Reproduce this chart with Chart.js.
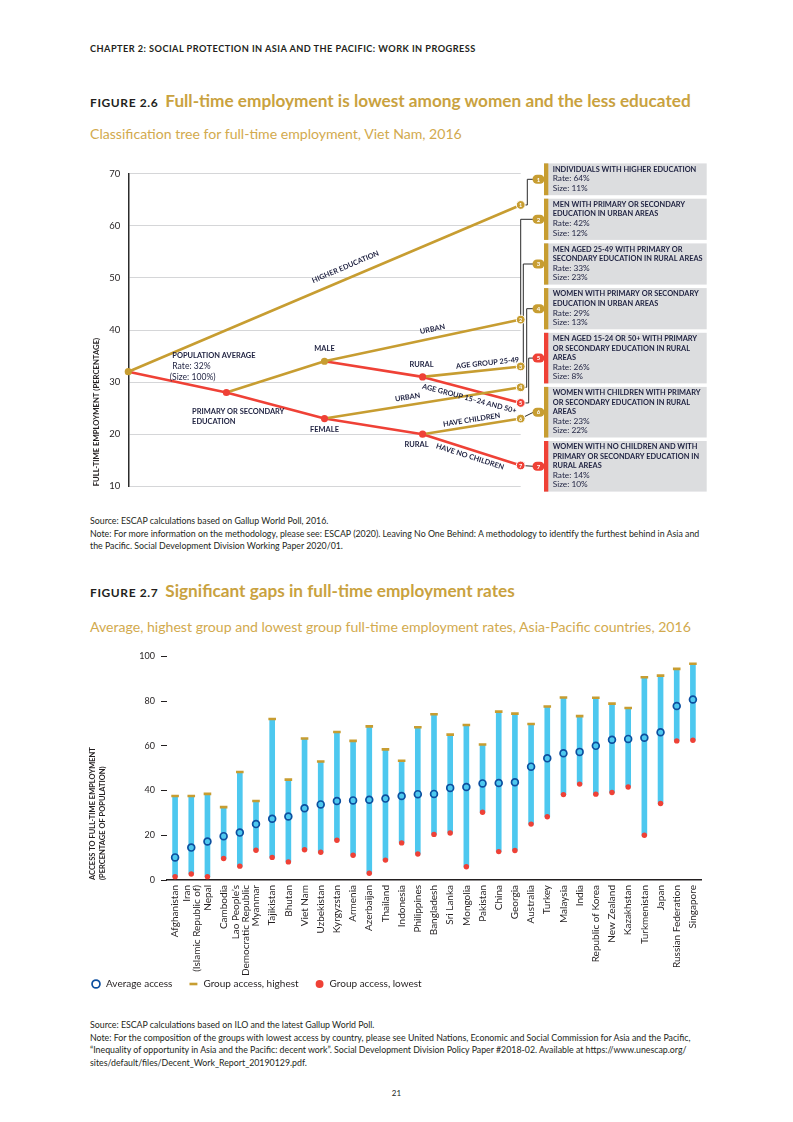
<!DOCTYPE html>
<html>
<head>
<meta charset="utf-8">
<script src="https://cdn.jsdelivr.net/npm/chart.js@4.4.1/dist/chart.umd.min.js"></script>
<style>
  html, body { margin: 0; padding: 0; background: #fff; }
  body { width: 793px; height: 1122px; position: relative; overflow: hidden; font-family: Lato, "Noto Sans", sans-serif; color: #231f20; }
  .abs { position: absolute; white-space: nowrap; }
  .chapter { left: 90px; top: 43px; font-size: 9.2px; font-weight: 700; line-height: 12px; letter-spacing: 0.45px; }
  .fig-title { left: 90px; line-height: 22px; }
  .fig-title .num { font-size: 12px; font-weight: 700; color: #231f20; margin-right: 7px; letter-spacing: 0.6px; }
  .fig-title .txt { font-size: 17.2px; font-weight: 700; color: #c9a23f; }
  .fig-sub { left: 90px; font-size: 14.1px; line-height: 17px; color: #d2aa4e; }
  .notes { left: 90px; font-size: 8.8px; line-height: 12.6px; }
  .chart-box { position: absolute; }
  .page-num { left: 0; width: 793px; text-align: center; top: 1087px; font-size: 8px; line-height: 12px; }
</style>
</head>
<body>
<div class="abs chapter">CHAPTER 2: SOCIAL PROTECTION IN ASIA AND THE PACIFIC: WORK IN PROGRESS</div>

<div class="abs fig-title" style="top:90px"><span class="num">FIGURE 2.6</span><span class="txt">Full-time employment is lowest among women and the less educated</span></div>
<div class="abs fig-sub" style="top:125px">Classification tree for full-time employment, Viet Nam, 2016</div>
<div class="chart-box" style="left:80px; top:160px; width:630px; height:340px;"><canvas id="treeChart"></canvas></div>
<div class="abs notes" style="top:515px">Source: ESCAP calculations based on Gallup World Poll, 2016.<br>Note: For more information on the methodology, please see: ESCAP (2020). Leaving No One Behind: A methodology to identify the furthest behind in Asia and<br>the Pacific. Social Development Division Working Paper 2020/01.</div>

<div class="abs fig-title" style="top:580px"><span class="num">FIGURE 2.7</span><span class="txt">Significant gaps in full-time employment rates</span></div>
<div class="abs fig-sub" style="top:618px">Average, highest group and lowest group full-time employment rates, Asia-Pacific countries, 2016</div>
<div class="chart-box" style="left:75px; top:645px; width:635px; height:368px;"><canvas id="gapChart"></canvas></div>
<div class="abs notes" style="top:1019px">Source: ESCAP calculations based on ILO and the latest Gallup World Poll.<br>Note: For the composition of the groups with lowest access by country, please see United Nations, Economic and Social Commission for Asia and the Pacific,<br>“Inequality of opportunity in Asia and the Pacific: decent work”. Social Development Division Policy Paper #2018-02. Available at https://www.unescap.org/<br>sites/default/files/Decent_Work_Report_20190129.pdf.</div>

<div class="abs page-num">21</div>

<script>
const INK = "#1e2140";
const TEXT = "#231f20";
const GOLD = "#c79d31";
const RED = "#ef4136";
const SKY = "#4dc8ef";
const NAVY = "#0d4f9f";

// ---- Figure 2.6 data ----
const treeTicks = [10, 20, 30, 40, 50, 60, 70];
const innerNodes = [
  { id: "all", step: 0, rate: 32 },
  { id: "primSec", step: 1, rate: 28 },
  { id: "male", step: 2, rate: 34 },
  { id: "female", step: 2, rate: 23 },
  { id: "maleRural", step: 3, rate: 31 },
  { id: "femaleRural", step: 3, rate: 20 },
];
const groupTitles = [
  ["INDIVIDUALS WITH HIGHER EDUCATION"],
  ["MEN WITH PRIMARY OR SECONDARY", "EDUCATION IN URBAN AREAS"],
  ["MEN AGED 25-49 WITH PRIMARY OR", "SECONDARY EDUCATION IN RURAL AREAS"],
  ["WOMEN WITH PRIMARY OR SECONDARY", "EDUCATION IN URBAN AREAS"],
  ["MEN AGED 15-24 OR 50+ WITH PRIMARY", "OR SECONDARY EDUCATION IN RURAL", "AREAS"],
  ["WOMEN WITH CHILDREN WITH PRIMARY", "OR SECONDARY EDUCATION IN RURAL", "AREAS"],
  ["WOMEN WITH NO CHILDREN AND WITH", "PRIMARY OR SECONDARY EDUCATION IN", "RURAL AREAS"],
];
const groupRates = [64, 42, 33, 29, 26, 23, 14];
const groupSizes = [11, 12, 23, 13, 8, 22, 10];
const groupTones = ["gold", "gold", "gold", "gold", "red", "gold", "red"];
// from, to, tone, label
const treeEdges = [
  ["all", "g1", "gold", "HIGHER EDUCATION"],
  ["all", "primSec", "red", ""],
  ["primSec", "male", "gold", ""],
  ["primSec", "female", "red", ""],
  ["male", "g2", "gold", "URBAN"],
  ["male", "maleRural", "red", ""],
  ["female", "g4", "gold", "URBAN"],
  ["female", "femaleRural", "red", ""],
  ["maleRural", "g3", "gold", "AGE GROUP 25-49"],
  ["maleRural", "g5", "red", "AGE GROUP 15–24 AND 50+"],
  ["femaleRural", "g6", "gold", "HAVE CHILDREN"],
  ["femaleRural", "g7", "red", "HAVE NO CHILDREN"],
];
const nodeCaptions = {
  all: ["POPULATION AVERAGE", "Rate: 32%", "(Size: 100%)"],
  primSec: ["PRIMARY OR SECONDARY", "EDUCATION"],
  male: ["MALE"],
  female: ["FEMALE"],
  maleRural: ["RURAL"],
  femaleRural: ["RURAL"],
};

// ---- Figure 2.7 data ----
const gapTicks = [0, 20, 40, 60, 80, 100];
const countries = [
  "Afghanistan", ["Iran", "(Islamic Republic of)"], "Nepal", "Cambodia", ["Lao People’s", "Democratic Republic"],
  "Myanmar", "Tajikistan", "Bhutan", "Viet Nam", "Uzbekistan", "Kyrgyzstan", "Armenia", "Azerbaijan",
  "Thailand", "Indonesia", "Philippines", "Bangladesh", "Sri Lanka", "Mongolia", "Pakistan", "China",
  "Georgia", "Australia", "Turkey", "Malaysia", "India", "Republic of Korea", "New Zealand", "Kazakhstan",
  "Turkmenistan", "Japan", "Russian Federation", "Singapore",
];
const avgAccess = [10.1, 14.5, 17.2, 19.6, 21.2, 25.0, 27.4, 28.4, 32.1, 33.8, 35.3, 35.6, 35.9, 36.4, 37.6, 38.4, 38.5,
  41.2, 41.6, 43.2, 43.4, 43.7, 50.7, 54.4, 56.7, 57.3, 60.0, 62.7, 63.1, 63.6, 66.1, 77.8, 80.7];
const highestGroup = [37.6, 37.6, 38.5, 32.6, 48.3, 35.3, 72.0, 44.9, 63.3, 53.0, 66.2, 62.2, 68.7, 58.4, 53.3, 68.3, 74.1,
  65.0, 69.3, 60.6, 75.3, 74.4, 69.8, 77.6, 81.6, 73.3, 81.5, 78.9, 76.9, 90.7, 91.4, 94.4, 96.7];
const lowestGroup = [1.5, 2.7, 1.5, 9.6, 6.2, 13.3, 10.1, 8.1, 13.5, 12.4, 17.8, 11.1, 3.0, 8.9, 16.6, 11.6, 20.4,
  21.0, 5.9, 30.3, 12.7, 13.2, 25.0, 28.3, 38.2, 42.9, 38.4, 39.1, 41.6, 20.0, 34.2, 62.2, 62.5];

Chart.defaults.font.family = "Lato, 'Noto Sans', sans-serif";
Chart.defaults.color = TEXT;
Chart.defaults.animation = false;

const toneColor = (tone) => (tone === "red" ? RED : GOLD);

const nodeById = {};
innerNodes.forEach((n) => { nodeById[n.id] = n; });
groupRates.forEach((rate, i) => { nodeById["g" + (i + 1)] = { id: "g" + (i + 1), step: 4, rate }; });

function innerTone(id) {
  const edge = treeEdges.find((e) => e[1] === id);
  return edge ? edge[2] : "gold";
}

function pixelOf(chart, node) {
  return { x: chart.scales.x.getPixelForValue(node.step), y: chart.scales.y.getPixelForValue(node.rate) };
}

function layoutGroupBoxes(chart) {
  const area = chart.chartArea;
  const boxes = [];
  let top = area.top - 10.3;
  groupTitles.forEach((title) => {
    const lines = title.length + 2;
    const h = 6 + (lines - 1) * 9.4 + 7;
    boxes.push({ x: area.right + 23.3, y: top, w: 162.7, h, cy: top + h / 2 });
    top += h + 3.5;
  });
  return boxes;
}

// where each branch label sits: [fraction along, offset from line (+ above)], by edge index
const edgeLabelPlace = {
  0: [0.565, 11.5],
  4: [0.56, 9],
  6: [0.43, 8],
  8: [0.67, 7],
  9: [0.5, -9],
  10: [0.51, 6.5],
  11: [0.505, -7],
};
const captionPlace = {
  all: { dx: 44, dy: -16.3, align: "left" },
  primSec: { dx: -34.3, dy: 19, align: "left" },
  male: { dx: 0, dy: -13, align: "center" },
  female: { dx: 0, dy: 11.3, align: "center" },
  maleRural: { dx: -1, dy: -12, align: "center" },
  femaleRural: { dx: -6, dy: 10, align: "center" },
};
const connectorElbow = [6.6, 0, 2.6, 6, 8, null, null];

const treeDecor = {
  id: "treeDecor",
  beforeDatasetsDraw(chart) {
    const { ctx } = chart;
    const boxes = layoutGroupBoxes(chart);
    ctx.save();
    ctx.strokeStyle = "#2a2a2a";
    ctx.lineWidth = 1;
    boxes.forEach((b, i) => {
      const p = pixelOf(chart, nodeById["g" + (i + 1)]);
      const badgeLeft = b.x - 11.5;
      const elbow = connectorElbow[i];
      ctx.beginPath();
      ctx.moveTo(p.x, p.y);
      if (elbow !== null) {
        ctx.lineTo(p.x + elbow, p.y);
        ctx.lineTo(p.x + elbow, b.cy);
      }
      ctx.lineTo(badgeLeft + 1, b.cy);
      ctx.stroke();
    });
    ctx.restore();
  },
  afterDatasetsDraw(chart) {
    const { ctx } = chart;
    ctx.save();
    ctx.fillStyle = INK;
    ctx.textBaseline = "middle";

    // branch labels along the lines
    ctx.font = "bold 7.3px Lato, sans-serif";
    treeEdges.forEach(([from, to, , label], idx) => {
      if (!label) return;
      const place = edgeLabelPlace[idx];
      const p0 = pixelOf(chart, nodeById[from]);
      const p1 = pixelOf(chart, nodeById[to]);
      const ang = Math.atan2(p1.y - p0.y, p1.x - p0.x);
      const cx = p0.x + (p1.x - p0.x) * place[0] + Math.sin(ang) * place[1];
      const cy = p0.y + (p1.y - p0.y) * place[0] - Math.cos(ang) * place[1];
      ctx.save();
      ctx.translate(cx, cy);
      ctx.rotate(ang);
      ctx.textAlign = "center";
      ctx.fillText(label, 0, 0);
      ctx.restore();
    });

    // node captions
    Object.keys(nodeCaptions).forEach((id) => {
      const p = pixelOf(chart, nodeById[id]);
      const place = captionPlace[id];
      ctx.textAlign = place.align;
      nodeCaptions[id].forEach((line, k) => {
        const isCaps = line === line.toUpperCase() && !line.startsWith("(");
        ctx.font = isCaps ? "bold 7.45px Lato, sans-serif" : "8.6px Lato, sans-serif";
        const spacing = id === "all" ? 10.8 : 10;
        const dx = id === "all" && k === 2 ? place.dx - 2.5 : place.dx;
        ctx.fillText(line, p.x + dx, p.y + place.dy + k * spacing);
      });
    });

    // numbers inside end nodes
    ctx.fillStyle = "#fff";
    ctx.textAlign = "center";
    ctx.font = "bold 5.5px Lato, sans-serif";
    groupRates.forEach((_, i) => {
      const p = pixelOf(chart, nodeById["g" + (i + 1)]);
      ctx.fillText(String(i + 1), p.x, p.y + 0.3);
    });
    ctx.restore();
  },
  afterDraw(chart) {
    const { ctx } = chart;
    const boxes = layoutGroupBoxes(chart);
    ctx.save();
    boxes.forEach((b, i) => {
      const tone = toneColor(groupTones[i]);
      ctx.fillStyle = "#dcdddf";
      ctx.fillRect(b.x, b.y, b.w, b.h);
      ctx.fillStyle = tone;
      ctx.fillRect(b.x, b.y, 4.3, b.h);

      ctx.fillStyle = INK;
      ctx.textAlign = "left";
      ctx.textBaseline = "middle";
      const tx = b.x + 8.7;
      let ty = b.y + 6;
      ctx.font = "bold 7.4px Lato, sans-serif";
      groupTitles[i].forEach((line) => { ctx.fillText(line, tx, ty); ty += 9.4; });
      ctx.font = "8.3px Lato, sans-serif";
      ctx.fillText(`Rate: ${groupRates[i]}%`, tx, ty); ty += 9.4;
      ctx.fillText(`Size: ${groupSizes[i]}%`, tx, ty);

      // numbered badge
      const bx = b.x - 5.5;
      ctx.fillStyle = tone;
      ctx.beginPath();
      ctx.roundRect(bx - 6, b.cy - 4.5, 12, 9, 4.5);
      ctx.fill();
      ctx.fillStyle = "#fff";
      ctx.textAlign = "center";
      ctx.font = "bold 6px Lato, sans-serif";
      ctx.fillText(String(i + 1), bx, b.cy + 0.3);
    });
    ctx.restore();
  },
};

const edgeDatasets = treeEdges.map(([from, to, tone]) => ({
  data: [
    { x: nodeById[from].step, y: nodeById[from].rate },
    { x: nodeById[to].step, y: nodeById[to].rate },
  ],
  showLine: true,
  borderColor: toneColor(tone),
  borderWidth: 2.6,
  borderCapStyle: "round",
  pointRadius: 0,
  clip: false,
  order: 5,
}));

new Chart(document.getElementById("treeChart"), {
  type: "scatter",
  plugins: [treeDecor],
  data: {
    datasets: [
      ...edgeDatasets,
      {
        data: innerNodes.map((n) => ({ x: n.step, y: n.rate })),
        pointRadius: 3.6,
        pointBorderWidth: 0,
        pointBackgroundColor: innerNodes.map((n) => toneColor(innerTone(n.id))),
        clip: false,
        order: 1,
      },
      {
        data: groupRates.map((rate) => ({ x: 4, y: rate })),
        pointRadius: 4.4,
        pointBorderWidth: 1,
        pointBorderColor: "#ffffff",
        pointBackgroundColor: groupTones.map(toneColor),
        clip: false,
        order: 0,
      },
    ],
  },
  options: {
    responsive: true,
    maintainAspectRatio: false,
    events: [],
    layout: { padding: { top: 10, bottom: 10.3, right: 189.3, left: 0 } },
    plugins: { legend: { display: false }, tooltip: { enabled: false } },
    scales: {
      x: { type: "linear", min: 0, max: 4, display: false },
      y: {
        min: treeTicks[0],
        max: treeTicks[treeTicks.length - 1],
        afterBuildTicks: (scale) => { scale.ticks = treeTicks.map((v) => ({ value: v })); },
        afterFit: (scale) => { scale.width = 48.3; },
        grid: { color: "#d5d6d8", lineWidth: 1, drawTicks: false },
        border: { display: true, color: "#2b2b2b", width: 1.5 },
        ticks: { padding: 8, color: TEXT, font: { size: 9.5 } },
        title: {
          display: true,
          text: "FULL-TIME EMPLOYMENT (PERCENTAGE)",
          align: "start",
          color: TEXT,
          font: { size: 7.7, weight: "bold", lineHeight: 1.2 },
          padding: { top: 12.1, bottom: 0 },
        },
      },
    },
  },
});

// ---- Figure 2.7 ----
// legend sits closer to the rotated country names than the layout allows
const legendLift = {
  id: "legendLift",
  afterLayout(chart) {
    if (!chart.legend) return;
    chart.legend.top -= 14;
    chart.legend.bottom -= 14;
  },
};

// country names, two-line names straddle their tick
const countryLabels = {
  id: "countryLabels",
  afterDraw(chart) {
    const { ctx } = chart;
    const xs = chart.scales.x;
    ctx.save();
    ctx.fillStyle = TEXT;
    ctx.font = "10px Lato, sans-serif";
    ctx.textAlign = "right";
    ctx.textBaseline = "middle";
    countries.forEach((label, i) => {
      const lines = Array.isArray(label) ? label : [label];
      const x0 = xs.getPixelForTick(i);
      lines.forEach((line, k) => {
        const x = x0 + (k - (lines.length - 1) / 2) * 10 + (lines.length > 1 ? 0.7 : 0);
        ctx.save();
        ctx.translate(x, xs.top + 5);
        ctx.rotate(-Math.PI / 2);
        ctx.fillText(line, 0, 0);
        ctx.restore();
      });
    });
    ctx.restore();
  },
};

new Chart(document.getElementById("gapChart"), {
  type: "bar",
  plugins: [legendLift, countryLabels],
  data: {
    labels: countries,
    datasets: [
      {
        type: "line",
        label: "Average access",
        data: avgAccess,
        showLine: false,
        pointRadius: 3.4,
        pointBorderWidth: 1.7,
        pointBorderColor: NAVY,
        pointBackgroundColor: SKY,
        order: 0,
      },
      {
        type: "line",
        label: "Group access, highest",
        data: highestGroup,
        showLine: false,
        pointStyle: "line",
        pointRadius: 3.8,
        pointBorderWidth: 2.6,
        pointBorderColor: GOLD,
        order: 1,
      },
      {
        type: "line",
        label: "Group access, lowest",
        data: lowestGroup,
        showLine: false,
        pointRadius: 2.7,
        pointBorderWidth: 0,
        pointBackgroundColor: RED,
        order: 2,
      },
      {
        label: "range",
        data: countries.map((_, i) => [lowestGroup[i], highestGroup[i]]),
        backgroundColor: SKY,
        barThickness: 5,
        order: 3,
      },
    ],
  },
  options: {
    responsive: true,
    maintainAspectRatio: false,
    events: [],
    layout: { padding: { top: 8.6, right: 9, left: 0, bottom: 0 } },
    plugins: {
      tooltip: { enabled: false },
      legend: {
        position: "bottom",
        align: "start",
        labels: {
          usePointStyle: true,
          boxHeight: 5.6,
          padding: 16,
          color: TEXT,
          font: { size: 10 },
          filter: (item) => item.text !== "range",
          generateLabels: (chart) => {
            const items = Chart.defaults.plugins.legend.labels.generateLabels(chart);
            items.forEach((item) => {
              if (item.text === "Average access") {
                item.fillStyle = "#ffffff";
                item.lineWidth = 1.7;
              }
            });
            return items;
          },
        },
      },
    },
    scales: {
      x: {
        offset: true,
        grid: { display: false, drawTicks: false },
        border: { display: true, color: TEXT, width: 1.5 },
        ticks: { display: false },
        afterFit: (scale) => { scale.height = 97; },
      },
      y: {
        min: gapTicks[0],
        max: gapTicks[gapTicks.length - 1],
        afterBuildTicks: (scale) => { scale.ticks = gapTicks.map((v) => ({ value: v })); },
        afterFit: (scale) => { scale.width = 92; },
        grid: { display: true, drawOnChartArea: false, drawTicks: true, tickLength: 6, color: TEXT, lineWidth: 1 },
        border: { display: false },
        ticks: { padding: 6, color: TEXT, font: { size: 9 } },
        title: {
          display: true,
          text: ["ACCESS TO FULL-TIME EMPLOYMENT", "(PERCENTAGE OF POPULATION)"],
          align: "start",
          color: TEXT,
          font: { size: 7.5, weight: "bold", lineHeight: 1.33 },
          padding: { top: 13, bottom: 0 },
        },
      },
    },
  },
});
</script>
</body>
</html>
